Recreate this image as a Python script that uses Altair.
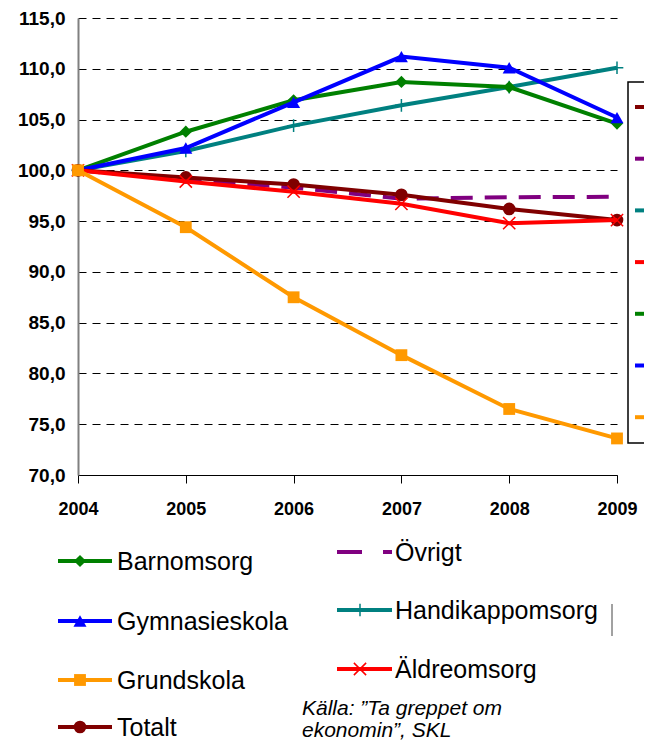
import altair as alt
import pandas as pd

# ---------------- data ----------------
years = [2004, 2005, 2006, 2007, 2008, 2009]
y_ticks = [70, 75, 80, 85, 90, 95, 100, 105, 110, 115]

barnomsorg = [100.0, 103.8, 106.9, 108.7, 108.2, 104.6]
gymnasieskola = [100.0, 102.2, 106.7, 111.2, 110.1, 105.2]
handikappomsorg = [100.0, 101.9, 104.4, 106.4, 108.2, 110.1]
aldreomsorg = [100.0, 98.9, 97.9, 96.7, 94.8, 95.1]
totalt = [100.0, 99.3, 98.6, 97.6, 96.2, 95.1]
ovrigt = [100.0, 99.1, 98.3, 97.2, 97.35, 97.4]
grundskola = [100.0, 94.4, 87.5, 81.8, 76.5, 73.6]

series_names = ["Övrigt", "Handikappomsorg", "Barnomsorg", "Gymnasieskola",
                "Totalt", "Äldreomsorg", "Grundskola"]
series_values = [ovrigt, handikappomsorg, barnomsorg, gymnasieskola,
                 totalt, aldreomsorg, grundskola]

left_legend = ["Barnomsorg", "Gymnasieskola", "Grundskola", "Totalt"]
right_legend = ["Övrigt", "Handikappomsorg", "Äldreomsorg"]
box_legend = ["Totalt", "Övrigt", "Handikappomsorg", "Äldreomsorg",
              "Barnomsorg", "Gymnasieskola", "Grundskola"]
source_lines = ["Källa: \u201dTa greppet om", "ekonomin\u201d, SKL"]

# ---------------- styles ----------------
PLUS = "M-1,0L1,0M0,-1L0,1"
CROSS = "M-1,-1L1,1M-1,1L1,-1"
style = {
    "Barnomsorg": dict(color="#008000", shape="diamond", size=150, filled=True),
    "Gymnasieskola": dict(color="#0000FF", shape="triangle-up", size=170, filled=True),
    "Handikappomsorg": dict(color="#008080", shape=PLUS, size=160, filled=False),
    "Äldreomsorg": dict(color="#FF0000", shape=CROSS, size=150, filled=False),
    "Totalt": dict(color="#800000", shape="circle", size=160, filled=True),
    "Grundskola": dict(color="#FF9900", shape="square", size=140, filled=True),
    "Övrigt": dict(color="#800080", shape=None, size=0, filled=True),
}
FONT = "Liberation Sans"
W, H = 539, 457

x_enc = alt.X("year:Q",
              scale=alt.Scale(domain=[2004, 2009], nice=False, zero=False),
              axis=alt.Axis(values=years, format="d", title=None, grid=False,
                            labelFont=FONT, labelFontSize=18, labelFontWeight="bold",
                            labelColor="black", labelFlush=False, labelPadding=17,
                            tickSize=8, tickColor="black", domainColor="black",
                            domainWidth=1))
y_enc = alt.Y("value:Q",
              scale=alt.Scale(domain=[70, 115], nice=False, zero=False),
              axis=alt.Axis(values=y_ticks, title=None,
                            labelExpr="replace(format(datum.value, '.1f'), '.', ',')",
                            labelFont=FONT, labelFontSize=19, labelFontWeight="bold",
                            labelColor="black", labelPadding=13, ticks=False,
                            grid=True, gridColor="black", gridDash=[8, 6],
                            gridWidth=1, domainColor="#808080", domainWidth=2))

layers = []
for name, vals in zip(series_names, series_values):
    df = pd.DataFrame({"year": years, "value": vals, "series": name})
    st = style[name]
    base = alt.Chart(df).encode(x=x_enc, y=y_enc)
    if name == "Övrigt":
        layers.append(base.mark_line(color=st["color"], strokeWidth=4,
                                     strokeDash=[22, 12]))
    else:
        layers.append(base.mark_line(color=st["color"], strokeWidth=4))
        if st["filled"]:
            layers.append(base.mark_point(shape=st["shape"], size=st["size"],
                                          filled=True, color=st["color"], opacity=1))
        else:
            layers.append(base.mark_point(shape=st["shape"], size=st["size"],
                                          filled=False, color=st["color"],
                                          strokeWidth=1.5, opacity=1))

one = alt.Data(values=[{"k": 1}])


def legend_item(name, lx1, lx2, mx, ly, tx):
    st = style[name]
    out = []
    if name == "Övrigt":
        out.append(alt.Chart(one).mark_rule(color=st["color"], strokeWidth=4,
                                            strokeDash=[25, 21]).encode(
            x=alt.value(lx1), x2=alt.value(lx2), y=alt.value(ly)))
    else:
        out.append(alt.Chart(one).mark_rule(color=st["color"], strokeWidth=4).encode(
            x=alt.value(lx1), x2=alt.value(lx2), y=alt.value(ly)))
        if st["filled"]:
            out.append(alt.Chart(one).mark_point(shape=st["shape"], size=st["size"],
                                                 filled=True, color=st["color"],
                                                 opacity=1).encode(
                x=alt.value(mx), y=alt.value(ly)))
        else:
            out.append(alt.Chart(one).mark_point(shape=st["shape"], size=st["size"],
                                                 filled=False, color=st["color"],
                                                 strokeWidth=1.5, opacity=1).encode(
                x=alt.value(mx), y=alt.value(ly)))
    out.append(alt.Chart(one).mark_text(font=FONT, fontSize=25, color="black",
                                        align="left", baseline="alphabetic").encode(
        x=alt.value(tx), y=alt.value(ly + 9), text=alt.value(name)))
    return out


left_y = [543, 603, 662, 709]
for name, ly in zip(left_legend, left_y):
    layers += legend_item(name, -20, 34, 2, ly, 39)
right_y = [534, 592, 651]
for name, ly in zip(right_legend, right_y):
    layers += legend_item(name, 259, 314, 282, ly, 317)

# stray vertical line next to legend
layers.append(alt.Chart(one).mark_rule(color="#444444", strokeWidth=1).encode(
    x=alt.value(534), y=alt.value(586), y2=alt.value(618)))

# source text
for i, line in enumerate(source_lines):
    layers.append(alt.Chart(one).mark_text(font=FONT, fontSize=21, fontStyle="italic",
                                           color="black", align="left",
                                           baseline="alphabetic").encode(
        x=alt.value(224), y=alt.value(697 + 22 * i), text=alt.value(line)))

# clipped legend box on the right
layers.append(alt.Chart(one).mark_rect(fillOpacity=0, stroke="black",
                                       strokeWidth=1.5).encode(
    x=alt.value(550), x2=alt.value(700), y=alt.value(64), y2=alt.value(425)))
for i, name in enumerate(box_legend):
    yy = 89 + i * 51.7
    layers.append(alt.Chart(one).mark_rule(color=style[name]["color"],
                                           strokeWidth=4).encode(
        x=alt.value(557), x2=alt.value(567), y=alt.value(yy)))

chart = alt.layer(*layers).properties(
    width=W, height=H,
    autosize=alt.AutoSizeParams(type="none"),
    padding={"left": 70, "top": 10, "right": 27, "bottom": 268},
).configure_view(stroke=None)

chart.save("out.html", embed_options={"renderer": "svg", "actions": False})
